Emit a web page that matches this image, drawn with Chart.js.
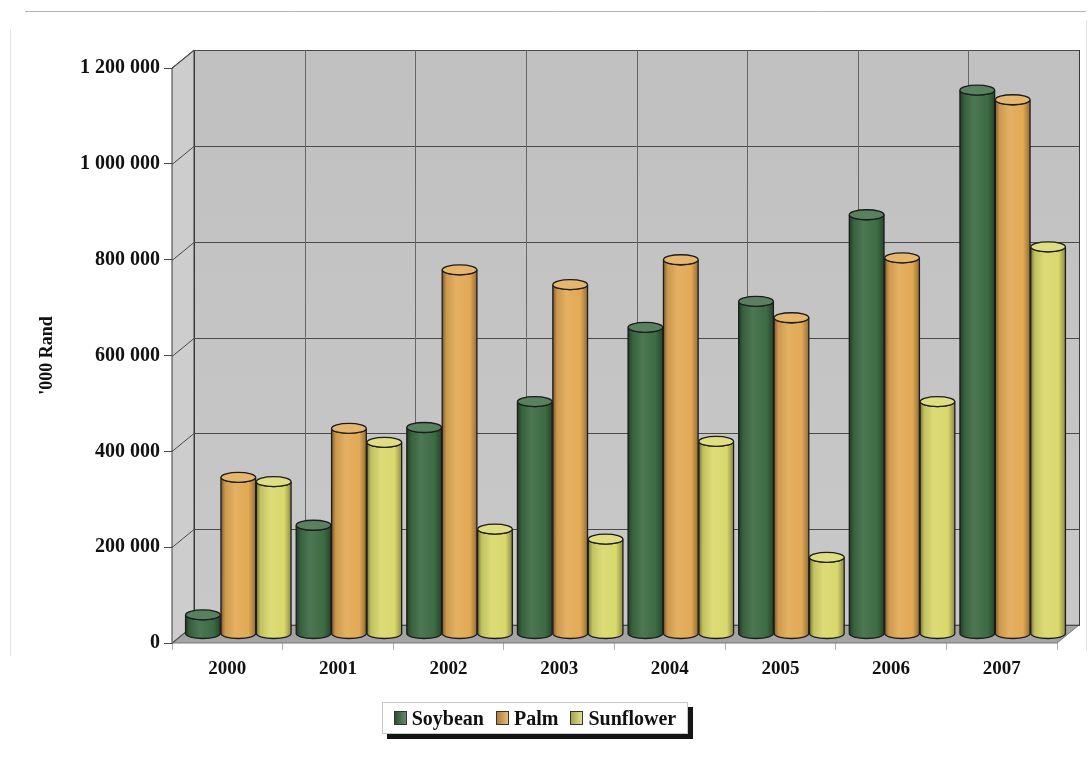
<!DOCTYPE html>
<html>
<head>
<meta charset="utf-8">
<script src="https://cdn.jsdelivr.net/npm/chart.js@4.4.1/dist/chart.umd.min.js"></script>
<style>
  html, body { margin: 0; padding: 0; background: #fff; }
  #wrap { position: relative; width: 1090px; height: 763px; }
  #legend {
    position: absolute; left: 382px; top: 702px; width: 306px; height: 32px;
    box-sizing: border-box; border: 1px solid #c8c8c8; background: #fff;
    box-shadow: 5px 5px 0 #151515;
    display: flex; align-items: center; justify-content: center; gap: 12px;
    font: bold 20px "Liberation Serif", "Times New Roman", serif; color: #111;
  }
  #legend span.item { display: flex; align-items: center; }
  #legend i { display: inline-block; width: 11px; height: 12px; margin-right: 5px; border: 1px solid #333; }
</style>
</head>
<body>
<div id="wrap">
  <canvas id="oil-chart" width="1090" height="763"></canvas>
  <div id="legend"></div>
</div>
<script>
'use strict';

const years = ['2000', '2001', '2002', '2003', '2004', '2005', '2006', '2007'];
const soybean = [40000, 227000, 431000, 485000, 640000, 694000, 875000, 1135000];
const palm = [327000, 429000, 760000, 729000, 781000, 660000, 785000, 1115000];
const sunflower = [318000, 400000, 219000, 198000, 402000, 160000, 485000, 808000];
const seriesNames = ['Soybean', 'Palm', 'Sunflower'];
const seriesColors = ['#3d6b43', '#e2a955', '#d9d86c'];

const DX = 22, DY = 18; // depth offset of the back wall
const serif = '"Liberation Serif", "Times New Roman", serif';

// mix a hex colour towards black (amt < 0) or white (amt > 0)
const shade = (hex, amt) => {
  let n = parseInt(hex.slice(1), 16);
  let c = [n >> 16, (n >> 8) & 255, n & 255].map((v) => {
    return Math.round(amt < 0 ? v * (1 + amt) : v + (255 - v) * amt);
  });
  return 'rgb(' + c.join(',') + ')';
};

const line = (ctx, pts) => {
  ctx.beginPath();
  ctx.moveTo(pts[0][0], pts[0][1]);
  pts.slice(1).forEach((p) => ctx.lineTo(p[0], p[1]));
};

const pageFrame = {
  id: 'pageFrame',
  beforeDraw(chart) {
    const ctx = chart.ctx;
    ctx.save();
    ctx.fillStyle = '#fff';
    ctx.fillRect(0, 0, chart.width, chart.height);
    ctx.lineWidth = 1;
    ctx.strokeStyle = '#b5b5b5';
    line(ctx, [[25, 11.5], [1086, 11.5]]);
    ctx.stroke();
    ctx.strokeStyle = '#e2e2e2';
    line(ctx, [[10.5, 30], [10.5, 656]]);
    ctx.stroke();
    line(ctx, [[1086.5, 20], [1086.5, 650]]);
    ctx.stroke();
    ctx.restore();
  }
};

// walls, floor and gridlines of the 3-D box
const box3d = {
  id: 'box3d',
  beforeDatasetsDraw(chart) {
    const {ctx, chartArea: a, scales: {x, y}} = chart;
    ctx.save();
    ctx.lineWidth = 1;
    ctx.strokeStyle = '#3a3a3a';

    // left side wall
    line(ctx, [[a.left, a.bottom], [a.left, a.top], [a.left + DX, a.top - DY], [a.left + DX, a.bottom - DY]]);
    ctx.closePath();
    ctx.fillStyle = '#cdcdcd';
    ctx.fill();
    ctx.stroke();

    // back wall
    let g = ctx.createLinearGradient(0, a.top - DY, 0, a.bottom - DY);
    g.addColorStop(0, '#c0c0c0');
    g.addColorStop(1, '#c8c8c8');
    ctx.fillStyle = g;
    ctx.fillRect(a.left + DX, a.top - DY, a.width, a.height);
    ctx.strokeRect(a.left + DX + 0.5, a.top - DY + 0.5, a.width, a.height);

    // floor
    line(ctx, [[a.left, a.bottom], [a.right, a.bottom], [a.right + DX, a.bottom - DY], [a.left + DX, a.bottom - DY]]);
    ctx.closePath();
    ctx.fillStyle = '#a4a4a4';
    ctx.fill();
    ctx.strokeStyle = '#777';
    ctx.stroke();

    // value gridlines, running along the side wall and across the back wall
    ctx.strokeStyle = '#4a4a4a';
    y.ticks.forEach((t) => {
      const py = Math.round(y.getPixelForValue(t.value)) + 0.5;
      line(ctx, [[a.left, py], [a.left + DX, py - DY], [a.right + DX, py - DY]]);
      ctx.stroke();
    });

    // category dividers on the back wall
    ctx.strokeStyle = '#666';
    const step = x.width / years.length;
    for (let i = 1; i < years.length; i++) {
      const px = Math.round(x.left + i * step + DX) + 0.5;
      line(ctx, [[px, a.top - DY], [px, a.bottom - DY]]);
      ctx.stroke();
    }
    ctx.restore();
  }
};

// bars drawn as cylinders standing halfway into the box
const cylinders = {
  id: 'cylinders',
  beforeDatasetDraw() {
    return false;
  },
  afterDatasetsDraw(chart) {
    const ctx = chart.ctx;
    ctx.save();
    chart.data.datasets.forEach((ds, di) => {
      const col = seriesColors[di];
      chart.getDatasetMeta(di).data.forEach((bar) => {
        const p = bar.getProps(['x', 'y', 'base', 'width'], true);
        const cx = p.x + DX / 2, top = p.y - DY / 2, bot = p.base - DY / 2;
        const rx = p.width / 2, ry = 5;
        const l = cx - rx, r = cx + rx;

        const g = ctx.createLinearGradient(l, 0, r, 0);
        g.addColorStop(0, shade(col, -0.45));
        g.addColorStop(0.12, shade(col, -0.1));
        g.addColorStop(0.4, shade(col, 0.08));
        g.addColorStop(0.8, col);
        g.addColorStop(1, shade(col, -0.35));

        ctx.beginPath();
        ctx.moveTo(l, top);
        ctx.lineTo(l, bot);
        ctx.ellipse(cx, bot, rx, ry, 0, Math.PI, 0, true);
        ctx.lineTo(r, top);
        ctx.ellipse(cx, top, rx, ry, 0, 0, Math.PI, false);
        ctx.closePath();
        ctx.fillStyle = g;
        ctx.fill();
        ctx.lineWidth = 1.3;
        ctx.strokeStyle = '#1c1c1c';
        ctx.stroke();

        ctx.beginPath();
        ctx.ellipse(cx, top, rx, ry, 0, 0, Math.PI * 2);
        ctx.fillStyle = shade(col, 0.15);
        ctx.fill();
        ctx.stroke();
      });
    });
    ctx.restore();
  }
};

const spaced = (v) => String(v).replace(/\B(?=(\d{3})+(?!\d))/g, ' ');

let ctx = document.getElementById('oil-chart').getContext('2d');
new Chart(ctx, {
  type: 'bar',
  data: {
    labels: years,
    datasets: [soybean, palm, sunflower].map((vals, i) => ({
      label: seriesNames[i],
      data: vals,
      backgroundColor: seriesColors[i],
      borderWidth: 0,
    })),
  },
  options: {
    responsive: false,
    animation: false,
    events: [],
    categoryPercentage: 0.96,
    barPercentage: 0.98,
    layout: { padding: { left: 32, top: 68, right: 33, bottom: 0 } },
    plugins: {
      legend: { display: false },
      tooltip: { enabled: false },
    },
    scales: {
      x: {
        afterFit: (scale) => { scale.height = 120; },
        border: { display: false },
        grid: { drawOnChartArea: false, offset: true, tickLength: 7, color: '#b0b0b0' },
        ticks: { color: '#111', padding: 8, font: { family: serif, size: 19, weight: 'bold' } },
      },
      y: {
        min: 0,
        max: 1200000,
        afterFit: (scale) => { scale.width = 140; },
        border: { display: false },
        grid: { drawOnChartArea: false, tickLength: 8, color: '#444' },
        ticks: {
          stepSize: 200000,
          padding: 4,
          color: '#111',
          font: { family: serif, size: 20, weight: 'bold' },
          callback: (v) => spaced(v),
        },
        title: {
          display: true,
          text: "'000 Rand",
          color: '#111',
          padding: { top: 5, bottom: 0 },
          font: { family: serif, size: 18, weight: 'bold' },
        },
      },
    },
  },
  plugins: [pageFrame, box3d, cylinders],
});

// legend swatches and names
const legend = document.getElementById('legend');
seriesNames.forEach((name, i) => {
  const item = document.createElement('span');
  item.className = 'item';
  const sw = document.createElement('i');
  sw.style.background = 'linear-gradient(90deg, ' + shade(seriesColors[i], -0.25) + ', ' + shade(seriesColors[i], 0.2) + ')';
  item.appendChild(sw);
  item.appendChild(document.createTextNode(name));
  legend.appendChild(item);
});
</script>
</body>
</html>
